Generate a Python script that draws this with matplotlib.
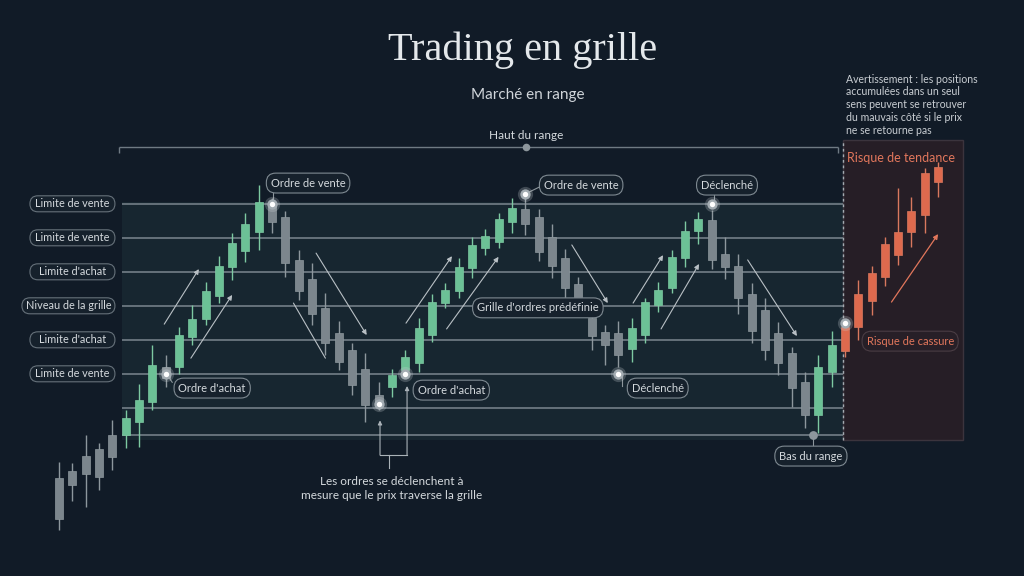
import matplotlib
matplotlib.use("Agg")
import matplotlib.pyplot as plt
from matplotlib.patches import FancyBboxPatch, Rectangle

# ---------------- data ----------------
opens  = [75.3, 85.3, 88.5, 87.6, 93.5, 100.0, 103.8, 109.7, 120.0, 120.0,
          128.8, 134.1, 140.9, 149.4, 154.1, 159.7, 168.2, 164.1, 151.5, 145.9,
          137.4, 130.0, 125.0, 119.4, 111.8, 114.1, 119.1, 121.2, 129.4, 138.8,
          142.4, 149.1, 155.0, 156.8, 162.6, 166.5, 164.1, 158.2, 152.1, 144.4,
          134.4, 130.3, 130.0, 125.3, 129.4, 138.2, 143.2, 152.1, 160.0, 163.2,
          153.2, 149.7, 141.5, 136.8, 130.0, 124.1, 115.6, 105.9, 118.5, 124.7,
          131.8, 139.4, 146.5, 152.9, 159.7, 164.7, 174.4]
highs  = [92.1, 91.8, 100.0, 97.6, 104.4, 107.4, 115.0, 126.5, 123.5, 131.8,
          138.2, 145.0, 152.6, 159.4, 165.3, 173.5, 169.7, 165.9, 154.4, 150.6,
          141.8, 133.5, 127.1, 124.1, 115.6, 119.4, 125.0, 134.4, 141.5, 144.7,
          152.1, 158.2, 160.6, 165.3, 169.7, 171.2, 166.5, 162.1, 154.7, 146.5,
          136.8, 132.4, 133.5, 134.4, 140.3, 145.0, 154.4, 162.9, 165.6, 166.2,
          158.2, 153.2, 144.7, 140.3, 133.2, 125.9, 118.5, 123.5, 130.6, 133.8,
          145.6, 149.7, 158.2, 172.6, 170.0, 178.5, 180.3]
lows   = [72.1, 80.6, 78.8, 83.8, 89.7, 96.2, 96.5, 107.4, 114.1, 117.9,
          126.5, 132.4, 138.8, 145.6, 150.9, 154.4, 159.4, 146.5, 139.7, 132.4,
          123.5, 119.1, 111.8, 103.8, 107.4, 111.2, 117.9, 118.5, 127.4, 137.4,
          140.3, 146.2, 152.9, 155.0, 159.4, 158.8, 151.2, 146.2, 140.3, 135.9,
          125.0, 120.6, 120.0, 121.5, 127.1, 136.2, 141.8, 149.4, 156.2, 148.8,
          145.9, 135.6, 127.1, 122.1, 117.6, 108.2, 102.1, 100.6, 114.1, 122.9,
          127.9, 135.3, 143.8, 150.0, 155.3, 159.4, 170.0]
closes = [87.4, 89.4, 93.8, 95.9, 100.0, 105.0, 110.3, 120.6, 116.8, 129.4,
          134.1, 142.4, 149.7, 156.5, 162.1, 168.5, 162.6, 150.6, 142.4, 135.6,
          127.1, 121.5, 114.7, 108.8, 109.1, 117.6, 122.9, 131.5, 139.1, 142.6,
          149.4, 155.9, 158.5, 163.5, 166.8, 162.1, 153.8, 149.7, 143.2, 137.6,
          129.1, 126.5, 123.5, 131.5, 139.1, 142.6, 152.4, 160.0, 163.5, 151.5,
          149.4, 140.3, 130.6, 125.0, 121.2, 113.8, 105.9, 120.0, 126.5, 131.8,
          141.5, 147.6, 156.2, 159.7, 165.9, 177.1, 178.8]
# candle style group: n = neutral/grey, b = buy (green), r = breakout risk (red)
kinds = (["n"] * 5 + ["b"] * 3 + ["n"] + ["b"] * 7 + ["n"] * 9 + ["b"] * 10 +
         ["n"] * 8 + ["b"] * 6 + ["n"] * 8 + ["b"] * 2 + ["r"] * 8)

grid_levels = [100, 108, 118, 128, 138, 148, 158, 168]
left_labels = ["Limite de vente", "Limite de vente", "Limite d'achat",
               "Niveau de la grille", "Limite d'achat", "Limite de vente"]
left_label_levels = [168, 158, 148, 138, 128, 118]

# order markers: (candle index, price)
marker_idx = [8, 16, 24, 26, 35, 42, 49, 59]
marker_px = [118, 168, 109, 118, 171, 118, 168, 133]

# callouts: text, x (candle index), price
callout_text = ["Ordre de vente", "Ordre d'achat", "Ordre de vente", "Déclenché",
                "Grille d'ordres prédéfinie", "Ordre d'achat", "Déclenché",
                "Bas du range"]
callout_x = [18.7, 11.5, 39.2, 50.15, 35.95, 29.45, 44.95, 56.45]
callout_y = [174.1, 113.8, 173.5, 173.5, 137.4, 113.2, 113.8, 93.8]

# trend arrows (start x, start price, end x, end price, head)
arrow_x0 = [7.9, 9.9, 19.3, 17.6, 26.05, 29.1, 38.5, 43.1, 45.2, 51.7]
arrow_y0 = [132.6, 122.6, 153.5, 138.8, 132.9, 131.2, 155.9, 138.8, 131.2, 151.5]
arrow_x1 = [10.5, 13.0, 23.1, 20.0, 29.5, 33.0, 41.2, 45.35, 48.05, 55.4]
arrow_y1 = [148.8, 141.2, 129.4, 122.6, 152.6, 152.4, 138.8, 152.9, 150.3, 129.1]
arrow_head = [True, True, True, False, True, True, True, True, True, True]

# ---------------- style ----------------
BG = "#111b27"
TXT = "#d5dade"
EDGE = "#7f8a92"
BOXFC = "#16212c"
SALMON = "#e2775c"
col_body = {"n": "#7c868d", "b": "#6cc196", "r": "#de6a4e"}
col_wick = {"n": "#8d979d", "b": "#7dc9a1", "r": "#d9785e"}
SANS = ["Lato", "DejaVu Sans"]
plt.rcParams["font.family"] = SANS

# pixel geometry of the chart (x index -> pixels, price -> pixels)
PX0, PXS = 59.0, 13.32
PY0, PYS = 435.0, 3.4
W, H = 1024, 576

fig = plt.figure(figsize=(W / 100, H / 100), dpi=100, facecolor=BG)
ax = fig.add_axes([0, 0, 1, 1])
ax.set_facecolor(BG)
ax.set_xlim(-PX0 / PXS, (W - PX0) / PXS)
ax.set_ylim(100 - (H - PY0) / PYS, 100 + PY0 / PYS)
ax.axis("off")

x_left, x_div, x_right = 4.73, 58.85, 67.87
# range panel
ax.add_patch(Rectangle((x_left, 98.6), x_div - x_left, 168.4 - 98.6,
                       fc="#172630", ec="none", zorder=0))
# risk panel
ax.add_patch(Rectangle((x_div, 98.5), x_right - x_div, 186.8 - 98.5,
                       fc="#261e26", ec="#3b343d", lw=1.0, zorder=0))
ax.vlines(x_div, 98.5, 186.8, colors="#a3abb1", lw=1.0,
          linestyles=(0, (2, 2)), zorder=1)

# grid lines
ax.hlines(grid_levels, x_left, x_div, colors="#7b868e", lw=1.1, zorder=1)

# haut du range bracket
ax.hlines(184.7, 4.5, 58.5, colors="#6f7a83", lw=1.0, zorder=1)
ax.vlines([4.5, 58.5], 182.9, 184.7, colors="#6f7a83", lw=1.0, zorder=1)
ax.scatter([35.06], [184.7], s=30, c="#8d969c", zorder=3, linewidths=0)
ax.text(35.06, 188.2, "Haut du range", ha="center", va="center",
        fontsize=8.5, color=TXT)

# candles
xs = list(range(len(opens)))
for i in xs:
    k = kinds[i]
    ax.vlines(i, lows[i], highs[i], colors=col_wick[k], lw=1.0, zorder=2)
    lo, hi = min(opens[i], closes[i]), max(opens[i], closes[i])
    ax.bar(i, hi - lo, bottom=lo, width=0.6, color=col_body[k],
           edgecolor=col_wick[k], linewidth=0.5, zorder=3)

# arrows
for x0, y0, x1, y1, hd in zip(arrow_x0, arrow_y0, arrow_x1, arrow_y1, arrow_head):
    ax.annotate("", xy=(x1, y1), xytext=(x0, y0),
                arrowprops=dict(arrowstyle="-|>" if hd else "-", color="#b9c0c5",
                                lw=0.8, mutation_scale=7, shrinkA=0, shrinkB=0),
                zorder=4)
ax.annotate("", xy=(66.0, 159.1), xytext=(62.5, 139.1),
            arrowprops=dict(arrowstyle="-|>", color=SALMON, lw=0.9,
                            mutation_scale=7, shrinkA=0, shrinkB=0), zorder=4)

# connectors from markers to callouts
conn = [((16.07, 168.2), (16.07, 171.5)), ((49.2, 168.2), (49.2, 171.2)),
        ((35.06, 171.0), (36.1, 173.0)), ((42.3, 118.5), (42.3, 114.5)),
        ((8.03, 118.2), (8.5, 115.5)), ((56.6, 100.0), (56.6, 96.2))]
for (a, b) in conn:
    ax.plot([a[0], b[0]], [a[1], b[1]], color="#8d969c", lw=0.8, zorder=4)

# bottom bracket
ax.annotate("", xy=(24.1, 104.3), xytext=(24.1, 94.1),
            arrowprops=dict(arrowstyle="-|>", color="#aab2b8", lw=0.8,
                            mutation_scale=6, shrinkA=0, shrinkB=0), zorder=4)
ax.annotate("", xy=(26.13, 114.4), xytext=(26.13, 94.1),
            arrowprops=dict(arrowstyle="-|>", color="#aab2b8", lw=0.8,
                            mutation_scale=6, shrinkA=0, shrinkB=0), zorder=4)
ax.plot([24.1, 26.13], [94.1, 94.1], color="#aab2b8", lw=0.8, zorder=4)
ax.plot([24.77, 24.77], [94.1, 90.2], color="#aab2b8", lw=0.8, zorder=4)
ax.text(25.0, 84.3, "Les ordres se déclenchent à\nmesure que le prix traverse la grille",
        ha="center", va="center", fontsize=8.5, color=TXT, linespacing=1.35)

# markers
ax.scatter(marker_idx, marker_px, s=120, c="#c9d0d4", alpha=0.25, linewidths=0, zorder=5)
ax.scatter(marker_idx, marker_px, s=55, c="#a3acb2", linewidths=0, zorder=5)
ax.scatter(marker_idx, marker_px, s=15, c="#ffffff", linewidths=0, zorder=6)
ax.scatter([56.6], [100.0], s=40, c="#8d969c", linewidths=0, zorder=5)

# callouts
for t, x, y in zip(callout_text, callout_x, callout_y):
    ax.text(x, y, t, ha="center", va="center", fontsize=8, color=TXT, zorder=7,
            bbox=dict(boxstyle="round,pad=0.4,rounding_size=0.85", fc=BOXFC,
                      ec=EDGE, lw=0.8))
ax.text(63.9, 127.6, "Risque de cassure", ha="center", va="center", fontsize=8,
        color=SALMON, zorder=7,
        bbox=dict(boxstyle="round,pad=0.4,rounding_size=0.85", fc="#271f27",
                  ec="#4a3d44", lw=0.8))
ax.text(63.2, 181.5, "Risque de tendance", ha="center", va="center",
        fontsize=9, color=SALMON, zorder=7)

# left labels
for lab, lev in zip(left_labels, left_label_levels):
    wpx = 93 if "Niveau" in lab else 85
    w = wpx / PXS
    h = 16 / PYS
    x1 = 4.2
    ax.add_patch(FancyBboxPatch((x1 - w, lev - h / 2), w, h,
                                boxstyle="round,pad=0,rounding_size=0.6",
                                mutation_aspect=PXS / PYS,
                                fc=BOXFC, ec="#66717a", lw=0.8, zorder=6))
    ax.text(x1 - w / 2, lev, lab, ha="center", va="center", fontsize=7.8,
            color=TXT, zorder=7)

# warning text
ax.text(59.1, 206.3, "Avertissement : les positions\naccumulées dans un seul\n"
        "sens peuvent se retrouver\ndu mauvais côté si le prix\nne se retourne pas",
        ha="left", va="top", fontsize=7.6, color="#c9ced3", linespacing=1.2)

# titles
fig.text(523 / W, 1 - 60 / H, "Trading en grille", ha="center", va="baseline",
         fontsize=29, color="#e4e8eb", family=["Liberation Serif", "DejaVu Serif"])
fig.text(528 / W, 1 - 99 / H, "Marché en range", ha="center", va="baseline",
         fontsize=11, color="#d0d5da")

fig.savefig("out.png", dpi=100, facecolor=BG)
